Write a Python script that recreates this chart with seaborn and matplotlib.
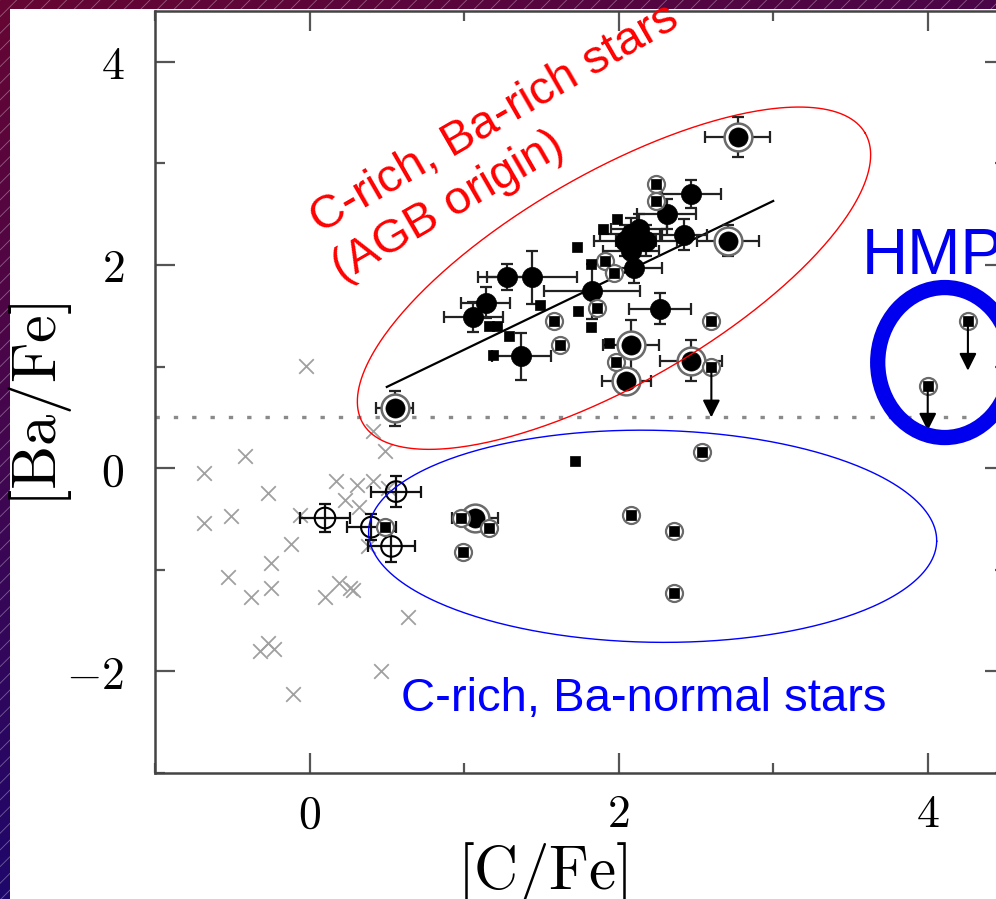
import numpy as np
import pandas as pd
import matplotlib
matplotlib.use("Agg")
import matplotlib.pyplot as plt
import seaborn as sns
from matplotlib.patches import Rectangle, Ellipse

# ---------------- data ----------------
# comparison stars (grey crosses)
cr_x = [-0.68, -0.68, -0.42, -0.51, -0.27, -0.06, -0.12, -0.25, -0.53, -0.25, -0.38, 0.10,
        0.19, 0.26, 0.28, 0.17, 0.23, 0.31, 0.32, 0.41, 0.49, 0.41, 0.64, -0.27, -0.23,
        -0.32, 0.46, -0.11, -0.02, 0.51, 0.38]
cr_y = [-0.05, -0.54, 0.12, -0.47, -0.24, -0.46, -0.75, -0.93, -1.07, -1.18, -1.27, -1.27,
        -1.13, -1.18, -1.20, -0.13, -0.31, -0.17, -0.38, -0.13, 0.17, 0.37, -1.46, -1.72,
        -1.78, -1.80, -2.00, -2.22, 1.01, -0.19, -0.77]

# filled circles with error bars
fc_x = [2.47, 2.31, 2.42, 2.04, 2.13, 2.18, 2.08, 2.08, 2.10, 1.83, 2.27, 1.28, 1.44, 1.14, 1.06, 1.37]
fc_y = [2.70, 2.50, 2.30, 2.24, 2.35, 2.24, 2.14, 2.31, 1.97, 1.74, 1.57, 1.88, 1.88, 1.63, 1.49, 1.10]
fc_xe = [0.19, 0.19, 0.15, 0.20, 0.18, 0.20, 0.18, 0.20, 0.18, 0.31, 0.20, 0.19, 0.29, 0.16, 0.19, 0.19]
fc_ye = [0.14, 0.15, 0.15, 0.15, 0.15, 0.15, 0.15, 0.15, 0.15, 0.27, 0.15, 0.13, 0.26, 0.15, 0.15, 0.23]

# filled circles with a ring, with error bars
rc_x = [2.77, 2.71, 2.08, 2.05, 2.47, 0.55, 1.07]
rc_y = [3.26, 2.24, 1.21, 0.86, 1.06, 0.59, -0.49]
rc_xe = [0.21, 0.20, 0.18, 0.16, 0.20, 0.12, 0.15]
rc_ye = [0.20, 0.15, 0.25, 0.12, 0.20, 0.17, 0.05]

# open circles with error bars
oc_x = [0.10, 0.40, 0.56, 0.53]
oc_y = [-0.49, -0.58, -0.23, -0.77]
oc_xe = [0.16, 0.16, 0.16, 0.15]
oc_ye = [0.14, 0.13, 0.15, 0.15]

# small squares inside a ring
rs_x = [0.49, 2.24, 2.24, 1.91, 1.97, 1.86, 1.58, 1.62, 2.60, 1.98, 2.54, 0.99, 2.08, 2.36, 2.36, 1.16, 0.98]
rs_y = [-0.58, 2.80, 2.63, 2.04, 1.92, 1.58, 1.45, 1.21, 1.45, 1.05, 0.16, -0.82, -0.46, -0.62, -1.23, -0.59, -0.49]

# upper limits (ringed squares with arrows)
ul_x = [2.60, 4.00, 4.26]
ul_y = [1.00, 0.81, 1.45]
ul_end = [0.50, 0.37, 0.96]

# plain small squares
sq_x = [1.72, 1.73, 1.99, 1.90, 1.49, 1.74, 1.82, 1.29, 1.16, 1.21, 1.19, 1.94, 1.82]
sq_y = [0.07, 2.18, 2.45, 2.35, 1.61, 1.55, 1.39, 1.30, 1.40, 1.40, 1.11, 1.23, 2.01]

# regression line
fit_x = [0.5, 3.0]
fit_y = [0.80, 2.63]

threshold = 0.5
xticks_major = [0, 2, 4]
xtick_labels = ["0", "2", "4"]
yticks_major = [-2, 0, 2, 4]
ytick_labels = ["\u22122", "0", "2", "4"]

# ---------------- figure ----------------
plt.rcParams["mathtext.fontset"] = "cm"
plt.rcParams["hatch.linewidth"] = 0.6

W, H = 996, 899
fig = plt.figure(figsize=(W / 100, H / 100), dpi=100)

# background: gradient + hatch + white panel
bg = fig.add_axes([0, 0, 1, 1], zorder=-10)
bg.set_axis_off()
xx, yy = np.meshgrid(np.linspace(0, 1, 300), np.linspace(1, 0, 300))
t = np.clip(0.78 * (1 - yy) + 0.30 * xx, 0, 1)
c0 = np.array([0.40, 0.02, 0.20])
c1 = np.array([0.04, 0.03, 0.48])
img = c0 * (1 - t)[..., None] + c1 * t[..., None]
bg.imshow(img, extent=[0, 1, 0, 1], aspect="auto", origin="upper")
bg.add_patch(Rectangle((0, 0), 1, 1, fill=False, hatch="//", edgecolor=(1, 1, 1, 0.35), lw=0))
bg.add_patch(Rectangle((10 / W, 0), (W - 10) / W, (H - 9) / H, facecolor="white", edgecolor="none"))
bg.set_xlim(0, 1)
bg.set_ylim(0, 1)

ax = fig.add_axes([155 / W, 1 - 773 / H, (1005 - 155) / W, (773 - 11) / H])
ax.set_facecolor("white")
ax.set_xlim(-1, 4.5)
ax.set_ylim(-3, 4.5)

# crosses
sns.scatterplot(x=cr_x, y=cr_y, marker="x", s=110, color="#a0a0a0", linewidth=1.3, ax=ax, zorder=2)

# dotted threshold
ax.axhline(threshold, color="#8a8a8a", lw=2.4, ls=(0, (1.3, 4.2)), zorder=1)

# regression line
sns.lineplot(x=fit_x, y=fit_y, color="black", lw=1.6, ax=ax, zorder=3)

# error bars
ax.errorbar(fc_x, fc_y, xerr=fc_xe, yerr=fc_ye, fmt="none", ecolor="#222222", elinewidth=1.6,
            capsize=4, capthick=1.6, zorder=4)
ax.errorbar(rc_x, rc_y, xerr=rc_xe, yerr=rc_ye, fmt="none", ecolor="#222222", elinewidth=1.6,
            capsize=4, capthick=1.6, zorder=4)
ax.errorbar(oc_x, oc_y, xerr=oc_xe, yerr=oc_ye, fmt="none", ecolor="#111111", elinewidth=1.6,
            capsize=4, capthick=1.6, zorder=4)

# ringed filled circles
sns.scatterplot(x=rc_x, y=rc_y, marker="o", s=400, facecolor="white", edgecolor="#6a6a6a",
                linewidth=1.8, ax=ax, zorder=5)
sns.scatterplot(x=rc_x, y=rc_y, marker="o", s=190, color="black", edgecolor="black",
                linewidth=0.5, ax=ax, zorder=6)
# filled circles
sns.scatterplot(x=fc_x, y=fc_y, marker="o", s=210, color="black", edgecolor="black",
                linewidth=0.5, ax=ax, zorder=6)
# open circles
sns.scatterplot(x=oc_x, y=oc_y, marker="o", s=220, facecolor="none", edgecolor="black",
                linewidth=1.5, ax=ax, zorder=6)

# ringed squares (incl. upper limits)
all_rs_x = rs_x + ul_x
all_rs_y = rs_y + ul_y
sns.scatterplot(x=all_rs_x, y=all_rs_y, marker="o", s=150, facecolor="white", edgecolor="#6a6a6a",
                linewidth=1.6, ax=ax, zorder=7)
sns.scatterplot(x=all_rs_x, y=all_rs_y, marker="s", s=45, color="black", edgecolor="black",
                linewidth=0.5, ax=ax, zorder=8)
# plain squares
sns.scatterplot(x=sq_x, y=sq_y, marker="s", s=55, color="black", edgecolor="black",
                linewidth=0.5, ax=ax, zorder=8)

# upper-limit arrows
for x0, y0, y1 in zip(ul_x, ul_y, ul_end):
    ax.annotate("", xy=(x0, y1), xytext=(x0, y0 - 0.05),
                arrowprops=dict(arrowstyle="-|>", color="black", lw=1.5, mutation_scale=26,
                                shrinkA=0, shrinkB=0), zorder=8)

# ellipses drawn in pixel-shape then mapped to data units
px_x = 154.5
px_y = 101.6

def ell(cx, cy, a, b, ang):
    tt = np.linspace(0, 2 * np.pi, 400)
    th = np.deg2rad(ang)
    dx = a * np.cos(th) * np.cos(tt) - b * np.sin(th) * np.sin(tt)
    dy = a * np.sin(th) * np.cos(tt) + b * np.cos(th) * np.sin(tt)
    return cx + dx / px_x, cy + dy / px_y

ex, ey = ell(1.97, 1.87, 290, 105, 30)
ax.plot(ex, ey, color="red", lw=1.0, zorder=9)
ex, ey = ell(2.22, -0.67, 284, 106, -1)
ax.plot(ex, ey, color="blue", lw=1.0, zorder=9)

# HMP circle
ax.add_patch(Ellipse((4.11, 1.04), 134 / px_x, 150 / px_y, fill=False, edgecolor="#0000ee",
                     lw=11, zorder=9))

# annotations
ax.text(0.065, 2.31, "C-rich, Ba-rich stars", color="red", fontsize=34, family="Liberation Sans",
        rotation=30, rotation_mode="anchor", ha="left", va="baseline", zorder=10)
ax.text(0.21, 1.83, "(AGB origin)", color="red", fontsize=34, family="Liberation Sans",
        rotation=30, rotation_mode="anchor", ha="left", va="baseline", zorder=10)
ax.text(2.16, -2.39, "C-rich, Ba-normal stars", color="blue", fontsize=34, family="Liberation Sans",
        ha="center", va="baseline", zorder=10)
ax.text(3.57, 1.91, "HMP", color="#0000ee", fontsize=46, family="Liberation Sans",
        ha="left", va="baseline", zorder=10)

# axes styling
ax.set_xticks(xticks_major)
ax.set_xticklabels(["$" + s + "$" for s in xtick_labels])
ax.set_xticks([-1, 1, 3], minor=True)
ax.set_yticks(yticks_major)
ax.set_yticklabels(["$" + s.replace("\u2212", "-") + "$" for s in ytick_labels])
ax.set_yticks([-3, -1, 1, 3], minor=True)
ax.tick_params(which="both", direction="in", top=True, right=True, color="#555555", width=1.6,
               labelsize=33)
ax.tick_params(which="major", length=14.5)
ax.tick_params(which="minor", length=7)
ax.tick_params(axis="x", pad=14)
ax.tick_params(axis="y", pad=22)
for sp in ax.spines.values():
    sp.set_color("#444444")
    sp.set_linewidth(1.8)

ax.set_xlabel(r"$[\mathrm{C/Fe}]$", fontsize=44)
ax.set_ylabel(r"$[\mathrm{Ba/Fe}]$", fontsize=45)
ax.xaxis.set_label_coords((542 - 155) / 850, (773 - 840) / 762)
ax.yaxis.label.set_va("center")
ax.yaxis.set_label_coords((40 - 155) / 850, (773 - 405) / 762)

fig.savefig("out.png", dpi=100)
